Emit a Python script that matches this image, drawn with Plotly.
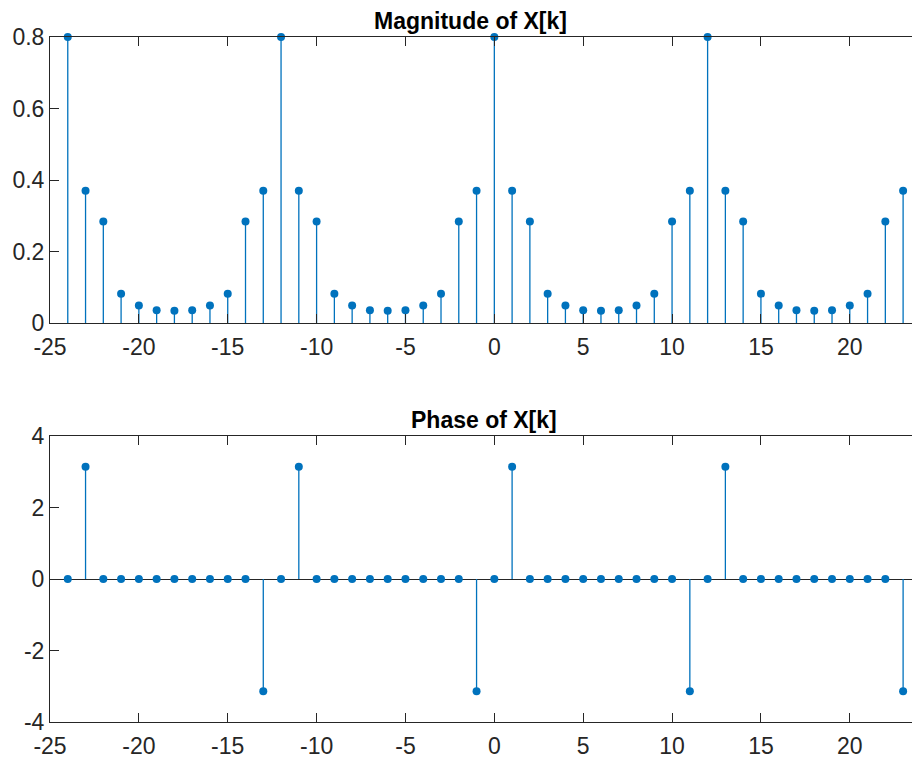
import plotly.graph_objects as go

# ---- data ----
k = list(range(-24, 24))
magnitude = [0.8, 0.37, 0.284, 0.082, 0.049, 0.036, 0.034, 0.036, 0.049, 0.082, 0.284, 0.37,
             0.8, 0.37, 0.284, 0.082, 0.049, 0.036, 0.034, 0.036, 0.049, 0.082, 0.284, 0.37,
             0.8, 0.37, 0.284, 0.082, 0.049, 0.036, 0.034, 0.036, 0.049, 0.082, 0.284, 0.37,
             0.8, 0.37, 0.284, 0.082, 0.049, 0.036, 0.034, 0.036, 0.049, 0.082, 0.284, 0.37]
phase = [0, 3.1416, 0, 0, 0, 0, 0, 0, 0, 0, 0, -3.1416,
         0, 3.1416, 0, 0, 0, 0, 0, 0, 0, 0, 0, -3.1416,
         0, 3.1416, 0, 0, 0, 0, 0, 0, 0, 0, 0, -3.1416,
         0, 3.1416, 0, 0, 0, 0, 0, 0, 0, 0, 0, -3.1416]

x_tickvals = [-25, -20, -15, -10, -5, 0, 5, 10, 15, 20]
x_ticktext = ["-25", "-20", "-15", "-10", "-5", "0", "5", "10", "15", "20"]
mag_tickvals = [0, 0.2, 0.4, 0.6, 0.8]
mag_ticktext = ["0", "0.2", "0.4", "0.6", "0.8"]
ph_tickvals = [-4, -2, 0, 2, 4]
ph_ticktext = ["-4", "-2", "0", "2", "4"]

titles = ["Magnitude of X[k]", "Phase of X[k]"]

BLUE = "#0072BD"
AX = "#262626"
FONT = "Arial, Liberation Sans, Helvetica, sans-serif"

W, H = 912, 759
L = 50


def stem_xy(xs, ys):
    sx, sy = [], []
    for xv, yv in zip(xs, ys):
        sx += [xv, xv, None]
        sy += [0, yv, None]
    return sx, sy


fig = go.Figure()
for i, vals in enumerate([magnitude, phase]):
    xa = "x" if i == 0 else "x2"
    ya = "y" if i == 0 else "y2"
    sx, sy = stem_xy(k, vals)
    fig.add_trace(go.Scatter(x=sx, y=sy, mode="lines", line=dict(color=BLUE, width=1.3),
                             xaxis=xa, yaxis=ya, showlegend=False, hoverinfo="skip",
                             cliponaxis=False))
    fig.add_trace(go.Scatter(x=k, y=vals, mode="markers",
                             marker=dict(color=BLUE, size=8, line=dict(width=0)),
                             xaxis=xa, yaxis=ya, showlegend=False, cliponaxis=False))


def ydom(top_px, bot_px):
    return [1 - bot_px / H, 1 - top_px / H]


common_x = dict(range=[-25, 23.5], tickvals=x_tickvals, ticktext=x_ticktext,
                ticks="inside", ticklen=9, tickcolor=AX, tickwidth=1,
                showline=True, linecolor=AX, linewidth=1, mirror="ticks",
                showgrid=False, zeroline=False, automargin=False,
                ticklabelstandoff=3,
                tickfont=dict(family=FONT, size=23, color=AX))
common_y = dict(ticks="inside", ticklen=9, tickcolor=AX, tickwidth=1,
                showline=True, linecolor=AX, linewidth=1, mirror=False,
                showgrid=False, automargin=False,
                tickfont=dict(family=FONT, size=23, color=AX))

fig.update_layout(
    width=W, height=H, autosize=False,
    margin=dict(l=L, r=0, t=0, b=0),
    paper_bgcolor="white", plot_bgcolor="white",
    xaxis=dict(common_x, anchor="y", domain=[0, 1]),
    yaxis=dict(common_y, anchor="x", domain=ydom(37, 323), range=[0, 0.8],
               tickvals=mag_tickvals, ticktext=mag_ticktext, zeroline=False),
    xaxis2=dict(common_x, anchor="y2", domain=[0, 1]),
    yaxis2=dict(common_y, anchor="x2", domain=ydom(436, 722), range=[-4, 4],
                tickvals=ph_tickvals, ticktext=ph_ticktext,
                zeroline=True, zerolinecolor=AX, zerolinewidth=1),
    annotations=[
        dict(text="<b>%s</b>" % titles[0], x=(470 - L) / (W - L), y=1 - 21 / H,
             xref="paper", yref="paper", xanchor="center", yanchor="middle",
             showarrow=False, font=dict(family=FONT, size=23, color="black")),
        dict(text="<b>%s</b>" % titles[1], x=(484 - L) / (W - L), y=1 - 420 / H,
             xref="paper", yref="paper", xanchor="center", yanchor="middle",
             showarrow=False, font=dict(family=FONT, size=23, color="black")),
    ],
)

fig.write_html("out.html")
